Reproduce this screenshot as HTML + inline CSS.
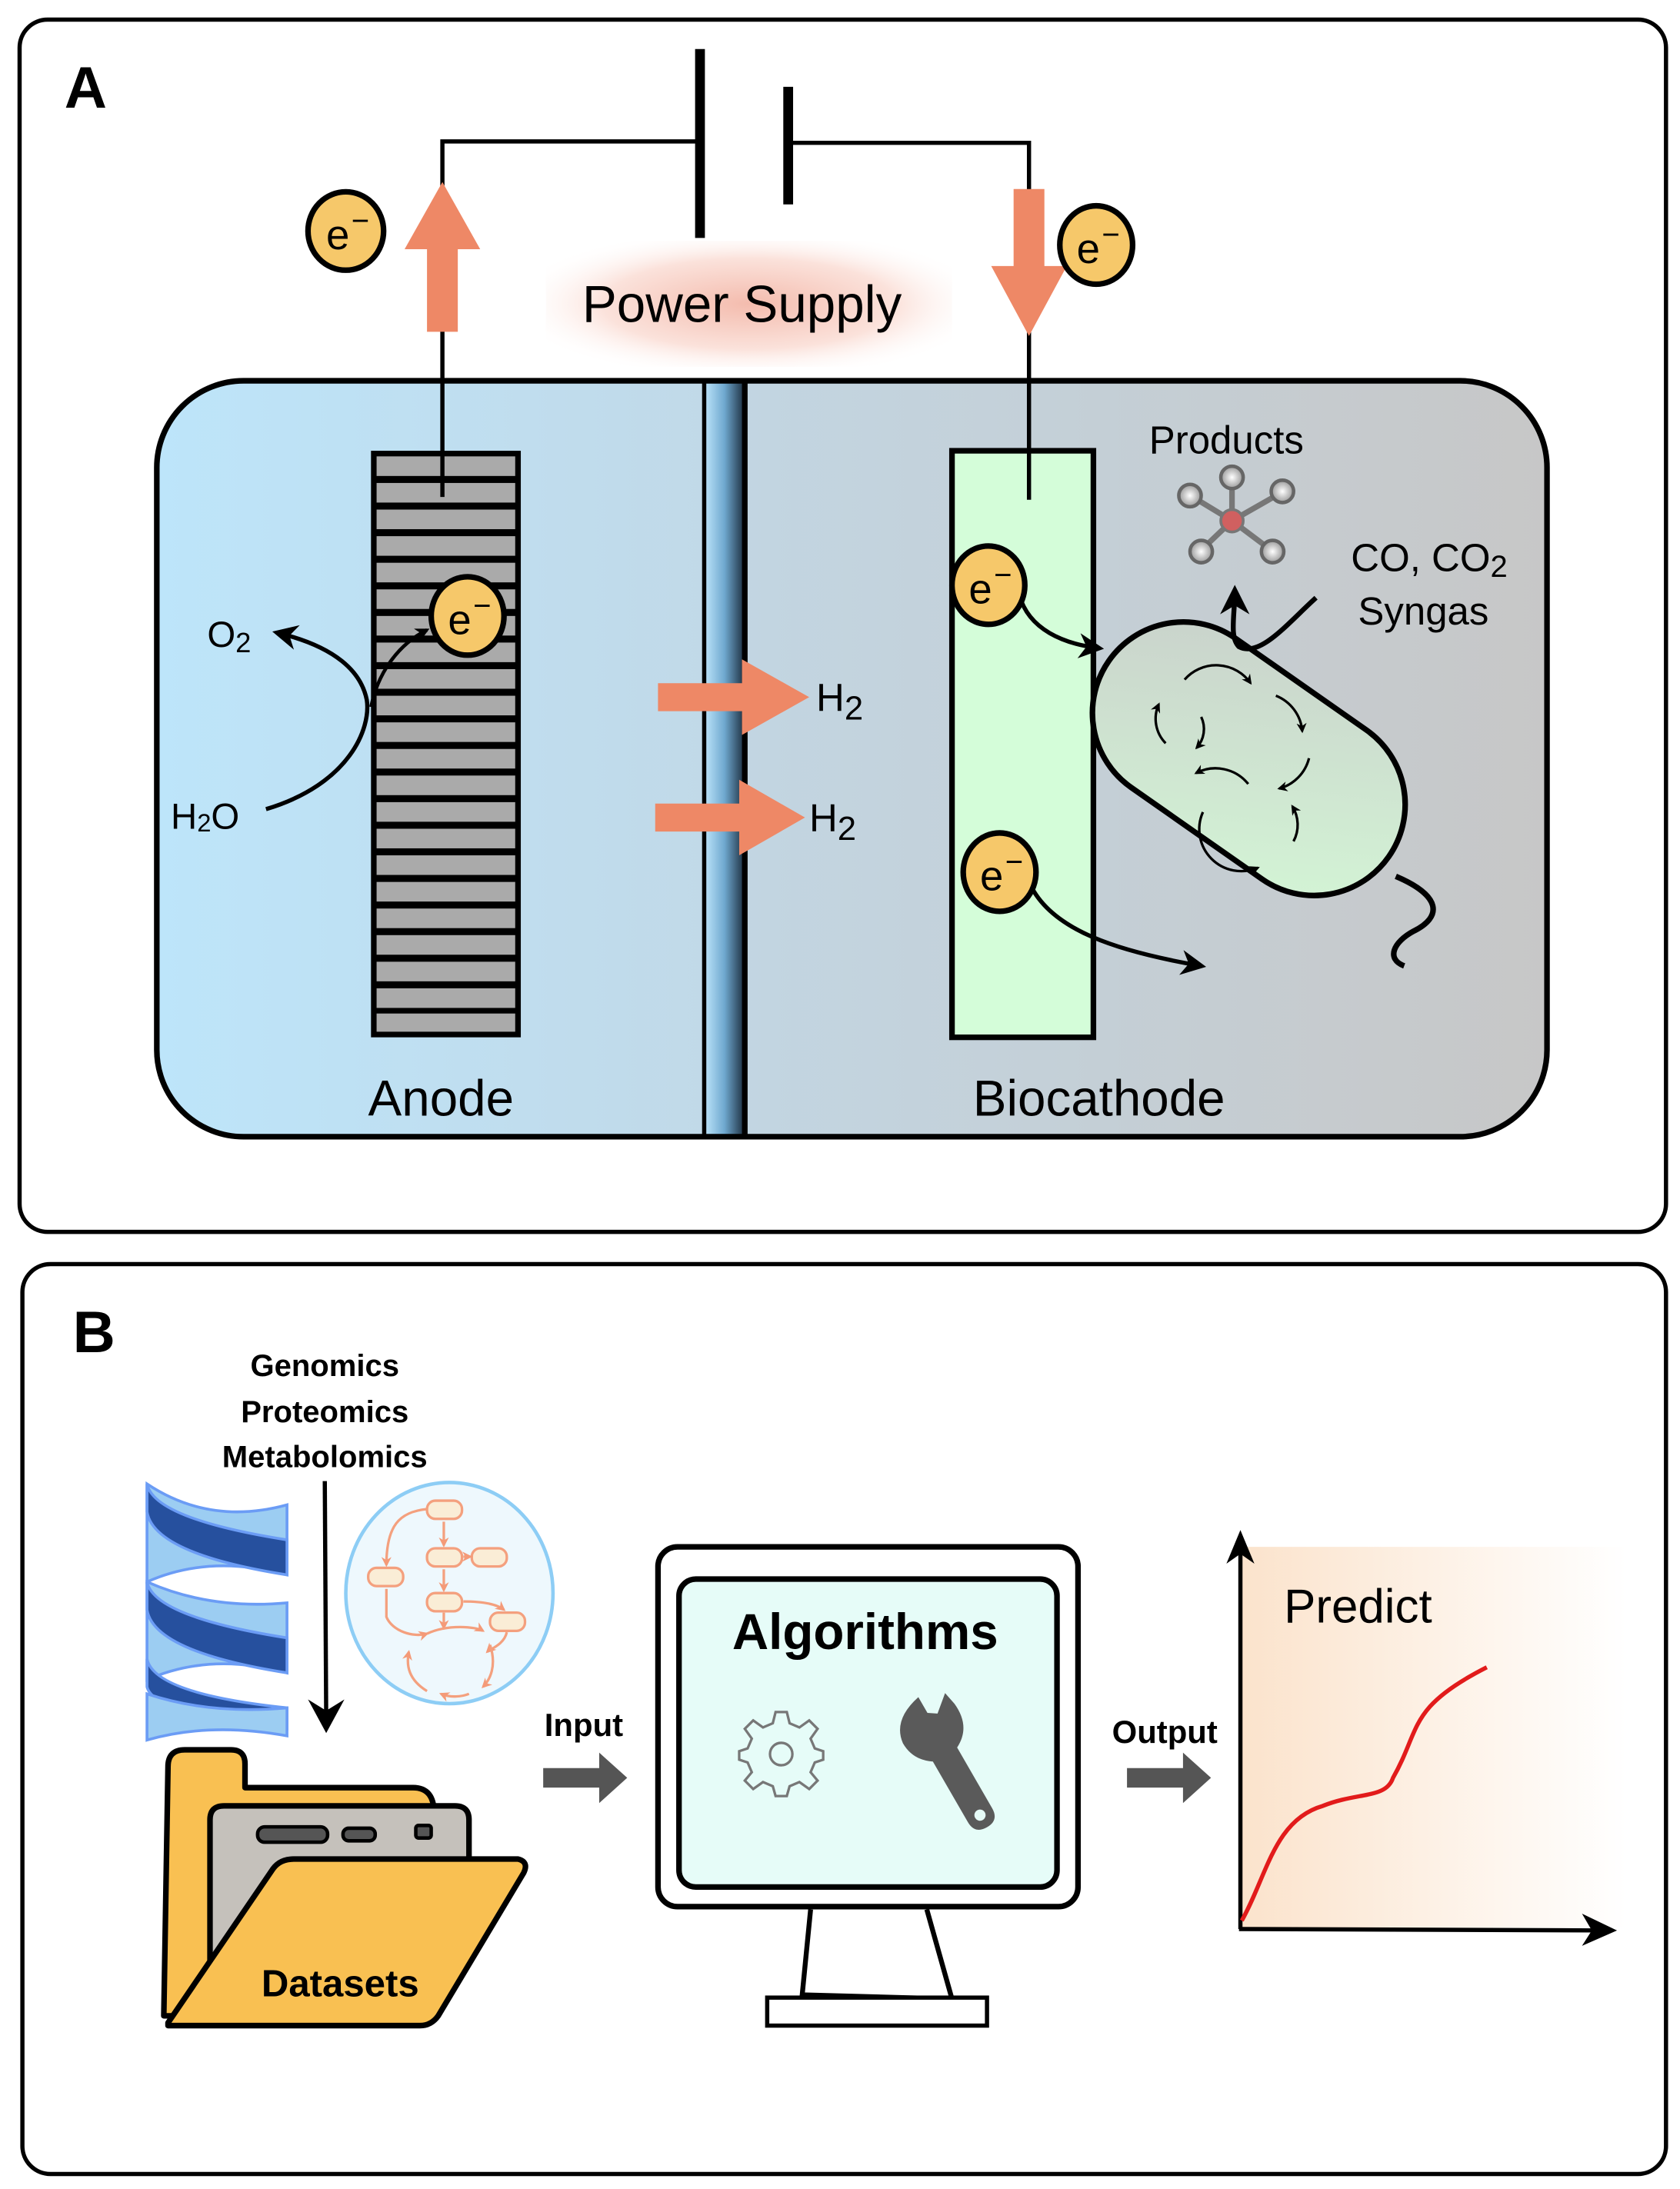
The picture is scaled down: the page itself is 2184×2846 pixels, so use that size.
<!DOCTYPE html>
<html><head><meta charset="utf-8"><style>
html,body{margin:0;padding:0;background:#fff}
svg{display:block}
text{font-family:"Liberation Sans",sans-serif}
</style></head><body>
<svg width="2184" height="2846" viewBox="0 0 1200 1563.7" xmlns="http://www.w3.org/2000/svg">
<defs>
<linearGradient id="lb" x1="0" x2="1"><stop offset="0" stop-color="#bde5fa"/><stop offset="1" stop-color="#c1d9e8"/></linearGradient>
<linearGradient id="rg" x1="0" x2="1"><stop offset="0" stop-color="#c2d6e3"/><stop offset="1" stop-color="#c7c7c7"/></linearGradient>
<linearGradient id="mem" x1="0" x2="1"><stop offset="0" stop-color="#bfe6fb"/><stop offset="0.5" stop-color="#6fa8cf"/><stop offset="1" stop-color="#1b2c3d"/></linearGradient>
<radialGradient id="glow" cx="0.5" cy="0.5" r="0.6"><stop offset="0" stop-color="#f4bcae"/><stop offset="0.6" stop-color="#fbe2db"/><stop offset="1" stop-color="#ffffff" stop-opacity="0"/></radialGradient>
<linearGradient id="pill" x1="0" y1="0" x2="1" y2="1"><stop offset="0" stop-color="#c9d0cb"/><stop offset="1" stop-color="#d4f7d6"/></linearGradient>
<linearGradient id="peach" x1="0" x2="1"><stop offset="0" stop-color="#fbe3cc"/><stop offset="1" stop-color="#ffffff"/></linearGradient>
<radialGradient id="ball"><stop offset="0" stop-color="#fff"/><stop offset="1" stop-color="#999"/></radialGradient>
<marker id="ah" viewBox="0 0 10 10" refX="8" refY="5" markerWidth="6" markerHeight="6" orient="auto"><path d="M0,0 L10,5 L0,10 L3,5z" fill="#000"/></marker>
<marker id="as" viewBox="0 0 10 10" refX="8" refY="5" markerWidth="4" markerHeight="4" orient="auto"><path d="M0,0 L10,5 L0,10 L3,5z" fill="#000"/></marker>
<marker id="ao" viewBox="0 0 10 10" refX="8" refY="5" markerWidth="4" markerHeight="4" orient="auto"><path d="M0,0 L10,5 L0,10 L3,5z" fill="#f49a78"/></marker>
</defs>

<rect x="14" y="14" width="1176" height="866" rx="20" fill="#fff" stroke="#000" stroke-width="3"/>
<text x="46" y="77" font-size="42" font-weight="bold">A</text>

<rect x="390" y="172" width="290" height="90" fill="url(#glow)"/>
<text x="530" y="230" font-size="37" text-anchor="middle">Power Supply</text>

<line x1="500" y1="35" x2="500" y2="170" stroke="#000" stroke-width="7"/>
<line x1="563" y1="62" x2="563" y2="146" stroke="#000" stroke-width="7"/>

<clipPath id="cc"><rect x="112" y="272" width="993" height="540" rx="62"/></clipPath>
<g clip-path="url(#cc)">
<rect x="112" y="272" width="395" height="540" fill="url(#lb)"/>
<rect x="507" y="272" width="600" height="540" fill="url(#rg)"/>
<rect x="503" y="272" width="29" height="540" fill="url(#mem)"/>
</g>
<rect x="112" y="272" width="993" height="540" rx="62" fill="none" stroke="#000" stroke-width="4"/>
<line x1="503" y1="272" x2="503" y2="812" stroke="#000" stroke-width="3"/>
<line x1="532" y1="272" x2="532" y2="812" stroke="#000" stroke-width="4"/>

<rect x="265" y="322" width="107" height="419" fill="#000"/>
<g fill="#aaaaaa">
<rect x="269" y="326" width="99" height="14"/><rect x="269" y="345" width="99" height="14"/><rect x="269" y="364" width="99" height="14"/>
<rect x="269" y="383" width="99" height="14"/><rect x="269" y="402" width="99" height="14"/><rect x="269" y="421" width="99" height="14"/>
<rect x="269" y="440" width="99" height="14"/><rect x="269" y="459" width="99" height="14"/><rect x="269" y="478" width="99" height="14"/>
<rect x="269" y="497" width="99" height="14"/><rect x="269" y="516" width="99" height="14"/><rect x="269" y="535" width="99" height="14"/>
<rect x="269" y="554" width="99" height="14"/><rect x="269" y="573" width="99" height="14"/><rect x="269" y="592" width="99" height="14"/>
<rect x="269" y="611" width="99" height="14"/><rect x="269" y="630" width="99" height="14"/><rect x="269" y="649" width="99" height="14"/>
<rect x="269" y="668" width="99" height="14"/><rect x="269" y="687" width="99" height="14"/><rect x="269" y="706" width="99" height="14"/>
<rect x="269" y="724" width="99" height="13"/>
</g>

<rect x="680" y="322" width="101" height="419" fill="#d4fdd9" stroke="#000" stroke-width="4"/>

<path d="M316,355 V101 H500 M563,102 H735 V357" fill="none" stroke="#000" stroke-width="3"/>

<polygon points="305,237 327,237 327,178 343,178 316,130 289,178 305,178" fill="#ee8866"/>
<polygon points="724,135 746,135 746,190 762,190 735,240 708,190 724,190" fill="#ee8866"/>

<text x="315" y="797" font-size="36" text-anchor="middle">Anode</text>
<text x="785" y="797" font-size="36" text-anchor="middle">Biocathode</text>

<polygon points="470,488 530,488 530,471 578,498 530,525 530,508 470,508" fill="#ee8866"/>
<polygon points="468,574 528,574 528,557 575,584 528,611 528,594 468,594" fill="#ee8866"/>
<text x="583" y="508" font-size="28">H<tspan font-size="24" dy="6">2</tspan></text>
<text x="578" y="594" font-size="28">H<tspan font-size="24" dy="6">2</tspan></text>

<text x="148" y="462" font-size="26">O<tspan font-size="20" dy="4">2</tspan></text>
<text x="122" y="592" font-size="26">H<tspan font-size="18" dy="2">2</tspan><tspan dy="-2">O</tspan></text>
<path d="M190,578 C250,560 265,520 262,500 C258,480 240,462 198,452" fill="none" stroke="#000" stroke-width="3" marker-end="url(#ah)"/>
<path d="M265,505 C270,480 285,460 305,450" fill="none" stroke="#000" stroke-width="2.5" marker-end="url(#as)"/>

<g transform="translate(892,542) rotate(35)">
<rect x="-122" y="-65" width="244" height="130" rx="65" fill="url(#pill)" stroke="#000" stroke-width="4"/>
<g fill="none" stroke="#000" stroke-width="1.8" marker-end="url(#as)">
<path d="M-70,-20 a30,30 0 0 1 40,-25"/>
<path d="M-10,-48 a30,30 0 0 1 30,10"/>
<path d="M35,-25 a30,30 0 0 1 -5,30"/>
<path d="M-55,25 a25,25 0 0 1 -20,-20"/>
<path d="M-45,-5 a20,20 0 0 1 10,20"/>
<path d="M10,15 a30,30 0 0 0 -35,15"/>
<path d="M-5,50 a30,30 0 0 0 55,10"/>
<path d="M60,30 a25,25 0 0 0 -15,-20"/>
</g>
</g>
<path d="M997,626 C1030,640 1030,655 1010,665 C995,673 990,685 1003,690" fill="none" stroke="#000" stroke-width="4"/>
<path d="M940,427 C920,445 900,470 885,462 C878,455 882,440 882,422" fill="none" stroke="#000" stroke-width="3.5" marker-end="url(#ah)"/>

<g stroke="#777" stroke-width="4">
<line x1="880" y1="372" x2="852" y2="355"/><line x1="880" y1="372" x2="880" y2="342"/>
<line x1="880" y1="372" x2="915" y2="352"/><line x1="880" y1="372" x2="858" y2="393"/><line x1="880" y1="372" x2="908" y2="393"/>
</g>
<g stroke="#666" stroke-width="2.5" fill="url(#ball)">
<circle cx="850" cy="354" r="8"/><circle cx="880" cy="341" r="8"/><circle cx="916" cy="351" r="8"/><circle cx="858" cy="394" r="8"/><circle cx="909" cy="394" r="8"/>
</g>
<circle cx="880" cy="372" r="8" fill="#d06060" stroke="#777" stroke-width="2"/>
<text x="876" y="324" font-size="28" text-anchor="middle">Products</text>
<text x="965" y="408" font-size="28">CO, CO<tspan font-size="22" dy="4">2</tspan></text>
<text x="970" y="446" font-size="28">Syngas</text>

<path d="M728,425 C735,450 760,460 785,463" fill="none" stroke="#000" stroke-width="3" marker-end="url(#ah)"/>
<path d="M735,630 C750,665 800,680 858,690" fill="none" stroke="#000" stroke-width="3" marker-end="url(#ah)"/>

<g>
<g><ellipse cx="247" cy="165" rx="27" ry="28" fill="#f6c86a" stroke="#000" stroke-width="4"/><text x="233" y="178" font-size="30">e</text><text x="251" y="165" font-size="22">−</text></g>
<g><ellipse cx="783" cy="175" rx="26" ry="28" fill="#f6c86a" stroke="#000" stroke-width="4"/><text x="769" y="188" font-size="30">e</text><text x="787" y="175" font-size="22">−</text></g>
<g><ellipse cx="334" cy="440" rx="26" ry="28" fill="#f6c86a" stroke="#000" stroke-width="4"/><text x="320" y="453" font-size="30">e</text><text x="338" y="440" font-size="22">−</text></g>
<g><ellipse cx="706" cy="418" rx="26" ry="28" fill="#f6c86a" stroke="#000" stroke-width="4"/><text x="692" y="431" font-size="30">e</text><text x="710" y="418" font-size="22">−</text></g>
<g><ellipse cx="714" cy="623" rx="26" ry="28" fill="#f6c86a" stroke="#000" stroke-width="4"/><text x="700" y="636" font-size="30">e</text><text x="718" y="623" font-size="22">−</text></g>
</g>

<rect x="16" y="903" width="1174" height="650" rx="20" fill="#fff" stroke="#000" stroke-width="3"/>
<text x="52" y="966" font-size="42" font-weight="bold">B</text>
<g font-size="22" font-weight="bold" text-anchor="middle">
<text x="232" y="983">Genomics</text><text x="232" y="1016">Proteomics</text><text x="232" y="1048">Metabolomics</text>
</g>
<line x1="232" y1="1058" x2="233" y2="1228" stroke="#000" stroke-width="3"/>
<polygon points="220,1214 233,1238 246,1214 233,1222" fill="#000"/>

<g stroke="#6b9cf5" stroke-width="2">
<path d="M105,1060 Q150,1090 205,1075 V1125 Q150,1110 105,1130 Z" fill="#9ccdf2"/>
<path d="M105,1130 Q150,1150 205,1145 V1195 Q150,1180 105,1200 Z" fill="#9ccdf2"/>
<path d="M105,1060 Q110,1085 205,1100 V1125 Q110,1110 105,1080 Z" fill="#26509e"/>
<path d="M105,1130 Q110,1155 205,1170 V1195 Q110,1180 105,1150 Z" fill="#26509e"/>
<path d="M105,1185 Q110,1210 205,1220 V1235 Q110,1225 105,1205 Z" fill="#26509e"/>
<path d="M105,1210 Q150,1225 205,1220 V1240 Q150,1230 105,1243 Z" fill="#9ccdf2"/>
</g>

<ellipse cx="321" cy="1138" rx="74" ry="79" fill="#eef8fd" stroke="#8dcdf5" stroke-width="2.5"/>
<g fill="#faedd6" stroke="#f4a07e" stroke-width="1.8">
<rect x="305" y="1072" width="25" height="13" rx="6"/><rect x="305" y="1106" width="25" height="13" rx="6"/>
<rect x="337" y="1106" width="25" height="13" rx="6"/><rect x="263" y="1120" width="25" height="13" rx="6"/>
<rect x="305" y="1138" width="25" height="13" rx="6"/><rect x="350" y="1152" width="25" height="13" rx="6"/>
</g>
<g fill="none" stroke="#f4a07e" stroke-width="1.8" marker-end="url(#ao)">
<path d="M317,1087 V1104"/><path d="M317,1121 V1136"/><path d="M331,1112 H336"/>
<path d="M305,1078 C285,1080 276,1090 276,1118"/><path d="M317,1152 V1163"/>
<path d="M331,1144 C345,1144 355,1146 360,1150"/>
<path d="M276,1135 V1155 C280,1165 295,1170 305,1167"/>
<path d="M305,1167 C320,1160 340,1162 345,1165"/>
<path d="M362,1166 C360,1175 350,1178 348,1180"/>
<path d="M350,1175 C355,1190 350,1200 345,1205"/>
<path d="M335,1210 C330,1212 322,1213 315,1210"/>
<path d="M305,1208 C292,1200 290,1190 292,1180"/>
</g>

<path d="M120,1262 Q120,1250 132,1250 H165 Q175,1250 175,1260 V1277 H295 Q310,1277 310,1295 V1440 H117 Z" fill="#f9c052" stroke="#000" stroke-width="4" stroke-linejoin="round"/>
<path d="M150,1420 V1300 Q150,1290 160,1290 H325 Q335,1290 335,1300 V1330 H210 L150,1420 Z" fill="#c5c1bb" stroke="#000" stroke-width="4" stroke-linejoin="round"/>
<rect x="184" y="1305" width="50" height="11" rx="5" fill="#555" stroke="#000" stroke-width="2.5"/>
<rect x="245" y="1306" width="23" height="9" rx="4" fill="#555" stroke="#000" stroke-width="2.5"/>
<rect x="297" y="1304" width="11" height="9" rx="2" fill="#555" stroke="#000" stroke-width="2.5"/>
<path d="M120,1445 L195,1335 Q200,1328 210,1328 H370 Q378,1330 374,1338 L313,1440 Q308,1447 300,1447 H120 Z" fill="#f9c052" stroke="#000" stroke-width="4" stroke-linejoin="round"/>
<text x="243" y="1426" font-size="27" font-weight="bold" text-anchor="middle">Datasets</text>

<text x="417" y="1240" font-size="23" font-weight="bold" text-anchor="middle">Input</text>
<polygon points="388,1263 428,1263 428,1252 448,1270 428,1288 428,1277 388,1277" fill="#555"/>

<rect x="470" y="1105" width="300" height="257" rx="14" fill="#fff" stroke="#000" stroke-width="4"/>
<rect x="485" y="1128" width="270" height="220" rx="12" fill="#e6fcf8" stroke="#000" stroke-width="4"/>
<text x="618" y="1178" font-size="36" font-weight="bold" text-anchor="middle">Algorithms</text>
<path d="M579,1364 L573,1425 L680,1428 L662,1364" fill="none" stroke="#000" stroke-width="3.5"/>
<rect x="548" y="1427" width="157" height="20" fill="#fff" stroke="#000" stroke-width="3"/>
<g transform="translate(558,1253)" fill="none" stroke="#777" stroke-width="1.8">
<path d="M-4,-28 H4 L6,-20 L13,-17 L20,-22 L26,-16 L21,-9 L24,-2 L30,0 V6 L24,8 L21,15 L26,21 L20,27 L13,22 L6,25 L4,32 H-4 L-6,25 L-13,22 L-20,27 L-26,21 L-21,15 L-24,8 L-30,6 V0 L-24,-2 L-21,-9 L-26,-16 L-20,-22 L-13,-17 L-6,-20 Z" transform="translate(0,-2)"/>
<circle cx="0" cy="0" r="8"/>
</g>
<g transform="translate(680,1262) rotate(-30)">
<path d="M-10,-10 V40 Q-10,50 0,50 Q10,50 10,40 V-10 Q26,-18 24,-38 L22,-48 L10,-38 L4,-42 V-55 Q-20,-50 -22,-32 Q-22,-18 -10,-10 Z" fill="#5a5a5a"/>
<circle cx="0" cy="40" r="4" fill="#e6fcf8"/>
</g>

<text x="832" y="1245" font-size="23" font-weight="bold" text-anchor="middle">Output</text>
<polygon points="805,1263 845,1263 845,1252 865,1270 845,1288 845,1277 805,1277" fill="#555"/>

<rect x="887" y="1105" width="275" height="272" fill="url(#peach)"/>
<line x1="886" y1="1378" x2="886" y2="1100" stroke="#000" stroke-width="3"/>
<polygon points="876,1117 886,1093 896,1117 886,1110" fill="#000"/>
<line x1="885" y1="1378" x2="1140" y2="1379" stroke="#000" stroke-width="3"/>
<polygon points="1130,1367 1155,1379 1130,1390 1137,1379" fill="#000"/>
<text x="970" y="1159" font-size="34" text-anchor="middle">Predict</text>
<path d="M887,1372 C905,1340 910,1300 945,1290 C970,1280 990,1285 995,1270 C1015,1235 1005,1220 1062,1191" fill="none" stroke="#e21b1b" stroke-width="3"/>
</svg>
</body></html>
